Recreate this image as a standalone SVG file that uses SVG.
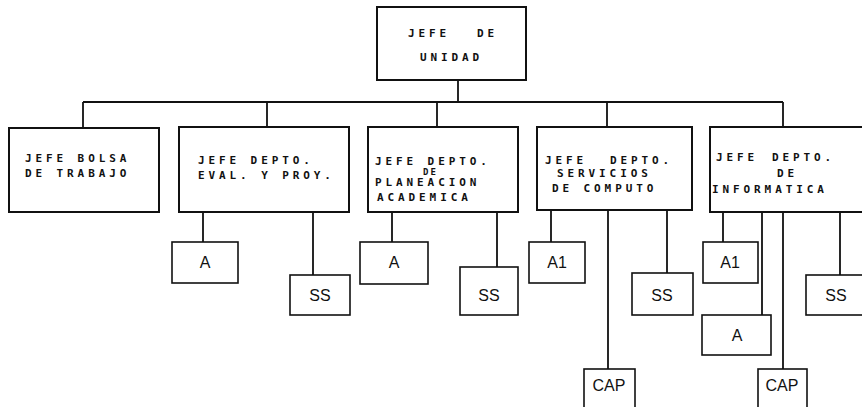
<svg xmlns="http://www.w3.org/2000/svg" width="862" height="407" viewBox="0 0 862 407">
<style>
.box{fill:#fff;stroke:#111;stroke-width:2}
.sub{fill:#fff;stroke:#111;stroke-width:1.6}
.dm{font-family:"DejaVu Sans Mono",monospace;font-weight:bold;font-size:11px;letter-spacing:3.9px;fill:#111;white-space:pre}
.dms{font-family:"DejaVu Sans Mono",monospace;font-weight:bold;font-size:9px;letter-spacing:2px;fill:#111}
.lb{font-family:"Liberation Sans",Arial,sans-serif;font-size:16px;fill:#111;text-anchor:middle}
.ln{fill:none;stroke:#111;stroke-width:1.8}
</style>
<rect width="862" height="407" fill="#fff"/>
<g id="connectors" class="ln">
<path d="M458 80V102M83 102H783"/>
<path d="M83 102V128M267 102V127M437 102V127M607 102V127M783 102V127"/>
<path d="M203 212V242M313 212V275"/>
<path d="M392 212V242M497 212V267"/>
<path d="M551 210V242M608 210V369M667 210V273"/>
<path d="M723 212V242M762 212V315M783 212V369M840 212V275"/>
</g>
<g id="jefe-unidad">
<rect class="box" x="377" y="7" width="149" height="73"/>
<text class="dm" x="408" y="37">JEFE</text>
<text class="dm" x="477" y="37">DE</text>
<text class="dm" x="420" y="61">UNIDAD</text>
</g>
<g id="bolsa">
<rect class="box" x="9" y="128" width="150" height="84"/>
<text class="dm" x="25" y="162">JEFE BOLSA</text>
<text class="dm" x="25" y="177">DE TRABAJO</text>
</g>
<g id="eval">
<rect class="box" x="179" y="127" width="170" height="85"/>
<text class="dm" x="198" y="164">JEFE DEPTO.</text>
<text class="dm" x="198" y="179">EVAL. Y PROY.</text>
</g>
<g id="planeacion">
<rect class="box" x="368" y="127" width="150" height="85"/>
<text class="dm" x="375" y="165">JEFE DEPTO.</text>
<text class="dms" x="423" y="175">DE</text>
<text class="dm" x="375" y="186">PLANEACION</text>
<text class="dm" x="377" y="201">ACADEMICA</text>
</g>
<g id="computo">
<rect class="box" x="537" y="127" width="155" height="83"/>
<text class="dm" x="545" y="164">JEFE</text>
<text class="dm" x="610" y="164">DEPTO.</text>
<text class="dm" x="557" y="177">SERVICIOS</text>
<text class="dm" x="552" y="192">DE COMPUTO</text>
</g>
<g id="informatica">
<rect class="box" x="710" y="127" width="160" height="85"/>
<text class="dm" x="716" y="161">JEFE</text>
<text class="dm" x="772" y="161">DEPTO.</text>
<text class="dm" x="777" y="177">DE</text>
<text class="dm" x="712" y="193">INFORMATICA</text>
</g>
<g id="eval-a"><rect class="sub" x="172" y="242" width="66" height="41"/><text class="lb" x="205" y="268">A</text></g>
<g id="eval-ss"><rect class="sub" x="290" y="275" width="60" height="40"/><text class="lb" x="320" y="301">SS</text></g>
<g id="plan-a"><rect class="sub" x="360" y="242" width="68" height="42"/><text class="lb" x="394" y="268">A</text></g>
<g id="plan-ss"><rect class="sub" x="460" y="267" width="58" height="48"/><text class="lb" x="489" y="301">SS</text></g>
<g id="comp-a1"><rect class="sub" x="529" y="242" width="56" height="41"/><text class="lb" x="557" y="268">A1</text></g>
<g id="comp-ss"><rect class="sub" x="632" y="273" width="61" height="42"/><text class="lb" x="662" y="301">SS</text></g>
<g id="comp-cap"><rect class="sub" x="584" y="369" width="51" height="45"/><text class="lb" x="609" y="391">CAP</text></g>
<g id="inf-a1"><rect class="sub" x="703" y="242" width="55" height="41"/><text class="lb" x="730" y="268">A1</text></g>
<g id="inf-a"><rect class="sub" x="702" y="315" width="69" height="40"/><text class="lb" x="737" y="341">A</text></g>
<g id="inf-cap"><rect class="sub" x="758" y="369" width="49" height="45"/><text class="lb" x="782" y="391">CAP</text></g>
<g id="inf-ss"><rect class="sub" x="806" y="275" width="60" height="40"/><text class="lb" x="836" y="301">SS</text></g>
</svg>
